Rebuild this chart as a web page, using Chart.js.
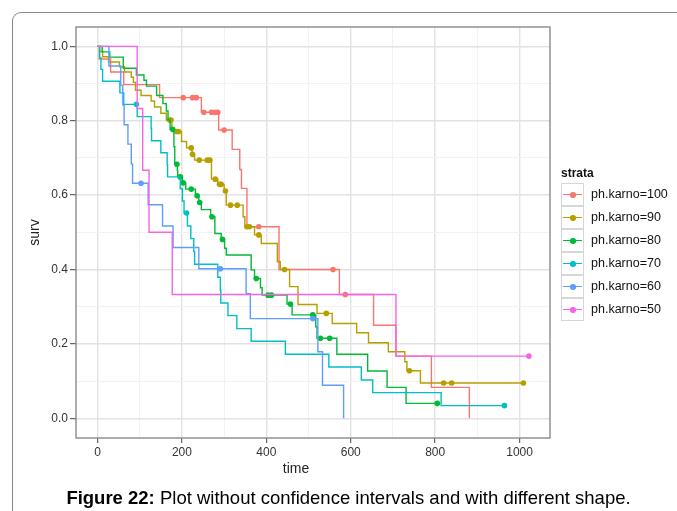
<!DOCTYPE html>
<html lang="en">
<head>
  <meta charset="UTF-8" />
  <title>Survival by ph.karno</title>
  <script src="https://cdn.jsdelivr.net/npm/chart.js"></script>
  <style>
    body {
      margin: 0;
      background: #fff;
      font-family: 'Liberation Sans', Arial, sans-serif;
    }
    .wrap {
      position: relative;
      width: 677px;
      height: 511px;
      overflow: hidden;
    }
    .frame {
      position: absolute;
      left: 12px;
      top: 12px;
      width: 720px;
      height: 560px;
      border-top: 1px solid #8a8a8a;
      border-left: 1px solid #8a8a8a;
      border-top-left-radius: 9px;
    }
    .x-title {
      position: absolute;
      left: 246px;
      width: 100px;
      top: 460px;
      text-align: center;
      font-size: 14px;
      line-height: 17px;
      color: #222;
    }
    .legend-title {
      position: absolute;
      left: 561px;
      top: 166px;
      font-size: 12px;
      font-weight: bold;
      color: #111;
    }
    .key {
      position: absolute;
      left: 561px;
      width: 23px;
      height: 23px;
      box-sizing: border-box;
      border: 1px solid #d6d6d6;
      background: #fff;
    }
    .key .kline {
      position: absolute;
      left: 1px;
      right: 1px;
      top: 10px;
      height: 1.3px;
    }
    .key .kdot {
      position: absolute;
      left: 8px;
      top: 8px;
      width: 5.5px;
      height: 5.5px;
      border-radius: 50%;
    }
    .key-label {
      position: absolute;
      left: 591px;
      font-size: 12.5px;
      color: #111;
      line-height: 23px;
    }
    .caption {
      position: absolute;
      left: 20px;
      width: 657px;
      top: 489px;
      text-align: center;
      font-size: 18.5px;
      line-height: 18.5px;
      color: #000;
      white-space: nowrap;
    }
  </style>
</head>
<body>
<div class="wrap">
  <div class="frame"></div>
  <canvas id="km"></canvas>
  <div class="x-title">time</div>
  <div class="legend-title">strata</div>
  <div id="legend"></div>
  <div class="caption"><b>Figure 22:</b> Plot without confidence intervals and with different shape.</div>
</div>

<script>
  // Kaplan-Meier steps per stratum: time, survival after that time, censored flag
  const time100 = [0, 4, 31, 62, 147, 203, 225, 234, 246, 252, 270, 278, 285, 287, 300, 319, 337, 341, 354, 382, 430, 558, 573, 587, 654, 707, 791, 881];
  const surv100 = [1, 0.966, 0.931, 0.897, 0.862, 0.862, 0.862, 0.862, 0.823, 0.823, 0.823, 0.823, 0.823, 0.775, 0.775, 0.723, 0.669, 0.618, 0.515, 0.515, 0.40, 0.40, 0.333, 0.333, 0.25, 0.167, 0.083, 0];
  const cens100 = [0, 0, 0, 0, 0, 1, 1, 1, 0, 1, 1, 1, 1, 0, 1, 0, 0, 0, 0, 1, 0, 1, 0, 1, 0, 0, 0, 0];

  const time90 = [0, 5, 12, 26, 52, 64, 80, 85, 90, 103, 127, 135, 150, 163, 171, 174, 176, 187, 192, 199, 211, 222, 224, 225, 230, 241, 260, 266, 270, 279, 285, 289, 293, 300, 303, 305, 315, 331, 345, 349, 354, 360, 372, 382, 388, 426, 433, 443, 455, 475, 520, 542, 556, 614, 642, 689, 728, 733, 739, 765, 820, 839, 1009];
  const surv90 = [1, 0.986, 0.972, 0.958, 0.945, 0.931, 0.917, 0.903, 0.882, 0.868, 0.853, 0.837, 0.820, 0.802, 0.802, 0.802, 0.771, 0.771, 0.771, 0.744, 0.727, 0.727, 0.710, 0.710, 0.694, 0.694, 0.694, 0.694, 0.643, 0.643, 0.629, 0.629, 0.629, 0.611, 0.611, 0.573, 0.573, 0.573, 0.542, 0.515, 0.515, 0.515, 0.493, 0.493, 0.470, 0.421, 0.400, 0.400, 0.354, 0.306, 0.282, 0.282, 0.255, 0.230, 0.203, 0.179, 0.152, 0.128, 0.128, 0.095, 0.095, 0.095, 0.095];
  const cens90 = [0, 0, 0, 0, 0, 0, 0, 0, 0, 0, 0, 0, 0, 0, 1, 1, 0, 1, 1, 0, 0, 1, 0, 1, 0, 1, 1, 1, 0, 1, 0, 1, 1, 0, 1, 0, 1, 1, 0, 0, 1, 1, 0, 1, 0, 0, 0, 1, 0, 0, 0, 1, 0, 0, 0, 0, 0, 0, 1, 0, 1, 1, 1];

  const time80 = [0, 11, 29, 61, 92, 110, 116, 140, 155, 163, 167, 172, 178, 181, 183, 188, 189, 190, 196, 201, 203, 209, 222, 232, 236, 240, 242, 246, 268, 271, 278, 293, 296, 301, 305, 364, 372, 376, 386, 390, 404, 412, 449, 457, 461, 510, 517, 520, 528, 550, 567, 640, 686, 731, 805];
  const surv80 = [1, 0.985, 0.971, 0.941, 0.923, 0.909, 0.893, 0.868, 0.846, 0.826, 0.802, 0.777, 0.777, 0.730, 0.683, 0.683, 0.666, 0.649, 0.649, 0.633, 0.633, 0.616, 0.616, 0.598, 0.598, 0.580, 0.580, 0.561, 0.542, 0.542, 0.497, 0.481, 0.481, 0.457, 0.439, 0.399, 0.376, 0.376, 0.351, 0.331, 0.331, 0.331, 0.307, 0.307, 0.278, 0.278, 0.246, 0.215, 0.215, 0.215, 0.172, 0.127, 0.083, 0.040, 0.040];
  const cens80 = [0, 0, 0, 0, 0, 0, 0, 0, 0, 0, 0, 0, 1, 0, 0, 1, 0, 0, 1, 0, 1, 0, 1, 0, 1, 0, 1, 0, 0, 1, 0, 0, 1, 0, 0, 0, 0, 1, 0, 0, 1, 1, 0, 1, 0, 1, 0, 0, 1, 1, 0, 0, 0, 0, 1];

  const time70 = [0, 5, 8, 12, 53, 62, 92, 94, 127, 128, 150, 165, 166, 196, 201, 205, 211, 213, 221, 228, 230, 285, 291, 292, 309, 330, 364, 445, 548, 625, 652, 814, 964];
  const surv70 = [1, 0.969, 0.938, 0.906, 0.875, 0.844, 0.844, 0.811, 0.779, 0.746, 0.714, 0.681, 0.649, 0.617, 0.584, 0.552, 0.552, 0.517, 0.483, 0.448, 0.414, 0.379, 0.345, 0.310, 0.276, 0.241, 0.207, 0.172, 0.138, 0.103, 0.069, 0.034, 0.034];
  const cens70 = [0, 0, 0, 0, 0, 0, 1, 0, 0, 0, 0, 0, 0, 0, 0, 0, 1, 0, 0, 0, 0, 0, 0, 0, 0, 0, 0, 0, 0, 0, 0, 0, 1];

  const time60 = [0, 27, 55, 60, 63, 72, 80, 83, 103, 120, 154, 179, 240, 291, 352, 362, 510, 522, 533, 583];
  const surv60 = [1, 0.947, 0.895, 0.842, 0.789, 0.737, 0.684, 0.632, 0.632, 0.574, 0.517, 0.459, 0.402, 0.402, 0.335, 0.268, 0.268, 0.179, 0.089, 0];
  const cens60 = [0, 0, 0, 0, 0, 0, 0, 0, 1, 0, 0, 0, 0, 1, 0, 0, 1, 0, 0, 0];

  const time50 = [0, 94, 107, 122, 177, 707, 1022];
  const surv50 = [1, 0.833, 0.667, 0.5, 0.333, 0.167, 0.167];
  const cens50 = [0, 0, 0, 0, 0, 0, 1];

  const strataLabels = ['ph.karno=100', 'ph.karno=90', 'ph.karno=80', 'ph.karno=70', 'ph.karno=60', 'ph.karno=50'];
  const strataColors = ['#F8766D', '#B79F00', '#00BA38', '#00BFC4', '#619CFF', '#F564E3'];

  const xGrid = [0, 100, 200, 300, 400, 500, 600, 700, 800, 900, 1000];
  const xLabels = [0, 200, 400, 600, 800, 1000];
  const yGrid = [0, 0.1, 0.2, 0.3, 0.4, 0.5, 0.6, 0.7, 0.8, 0.9, 1.0];
  const yLabels = [0, 0.2, 0.4, 0.6, 0.8, 1.0];

  const series = [
    [time100, surv100, cens100],
    [time90, surv90, cens90],
    [time80, surv80, cens80],
    [time70, surv70, cens70],
    [time60, surv60, cens60],
    [time50, surv50, cens50]
  ];

  const datasets = series.map(([t, s, c], i) => ({
    label: strataLabels[i],
    data: t.map((x, k) => ({ x: x, y: s[k] })),
    borderColor: strataColors[i],
    backgroundColor: strataColors[i],
    borderWidth: 1.4,
    stepped: 'before',
    fill: false,
    pointRadius: c.map(v => v ? 2.8 : 0),
    pointHoverRadius: 0,
    pointBorderWidth: 0,
    pointBackgroundColor: strataColors[i],
    order: series.length - i
  }));

  // panel border drawn over the curves
  const panelBorder = {
    id: 'panelBorder',
    afterDatasetsDraw(chart) {
      const { ctx, chartArea: a } = chart;
      ctx.save();
      ctx.strokeStyle = '#8a8a8a';
      ctx.lineWidth = 1.4;
      ctx.strokeRect(a.left, a.top, a.right - a.left, a.bottom - a.top);
      ctx.restore();
    }
  };

  const tickFont = { family: "'Liberation Sans', Arial, sans-serif", size: 12 };
  const titleFont = { family: "'Liberation Sans', Arial, sans-serif", size: 14 };

  const canvas = document.getElementById('km');
  canvas.width = 677;
  canvas.height = 511;

  new Chart(canvas, {
    type: 'line',
    data: { datasets: datasets },
    plugins: [panelBorder],
    options: {
      responsive: false,
      animation: false,
      layout: { padding: { left: 27, top: 27, right: 127, bottom: 34 } },
      plugins: {
        legend: { display: false },
        tooltip: { enabled: false }
      },
      scales: {
        x: {
          type: 'linear',
          min: -51,
          max: 1072,
          afterBuildTicks: s => { s.ticks = xGrid.map(v => ({ value: v })); },
          afterFit: s => { s.height = 39; },
          border: { display: false },
          grid: {
            color: c => xLabels.includes(c.tick.value) ? '#e2e2e2' : '#f2f2f2',
            lineWidth: c => xLabels.includes(c.tick.value) ? 1.4 : 1,
            tickColor: c => xLabels.includes(c.tick.value) ? '#444' : 'rgba(0,0,0,0)',
            tickLength: 5,
            tickWidth: 1
          },
          ticks: {
            autoSkip: false,
            maxRotation: 0,
            padding: 2,
            color: '#333',
            font: tickFont,
            callback: v => xLabels.includes(v) ? String(v) : ''
          }
        },
        y: {
          type: 'linear',
          min: -0.053,
          max: 1.052,
          afterBuildTicks: s => { s.ticks = yGrid.map(v => ({ value: v })); },
          afterFit: s => { s.width = 49; },
          border: { display: false },
          grid: {
            color: c => yLabels.includes(c.tick.value) ? '#e2e2e2' : '#f2f2f2',
            lineWidth: c => yLabels.includes(c.tick.value) ? 1.4 : 1,
            tickColor: c => yLabels.includes(c.tick.value) ? '#444' : 'rgba(0,0,0,0)',
            tickLength: 6,
            tickWidth: 1
          },
          ticks: {
            autoSkip: false,
            padding: 2,
            color: '#333',
            font: tickFont,
            callback: v => yLabels.includes(v) ? v.toFixed(1) : ''
          },
          title: { display: true, text: 'surv', color: '#222', font: titleFont, padding: 0 }
        }
      }
    }
  });

  // legend keys in boxes, line with a dot
  const legend = document.getElementById('legend');
  strataLabels.forEach((name, i) => {
    const top = 183 + i * 23;
    const key = document.createElement('div');
    key.className = 'key';
    key.style.top = top + 'px';
    key.innerHTML = `<span class="kline" style="background:${strataColors[i]}"></span>` +
                    `<span class="kdot" style="background:${strataColors[i]}"></span>`;
    const label = document.createElement('div');
    label.className = 'key-label';
    label.style.top = top + 'px';
    label.textContent = name;
    legend.appendChild(key);
    legend.appendChild(label);
  });
</script>
</body>
</html>
